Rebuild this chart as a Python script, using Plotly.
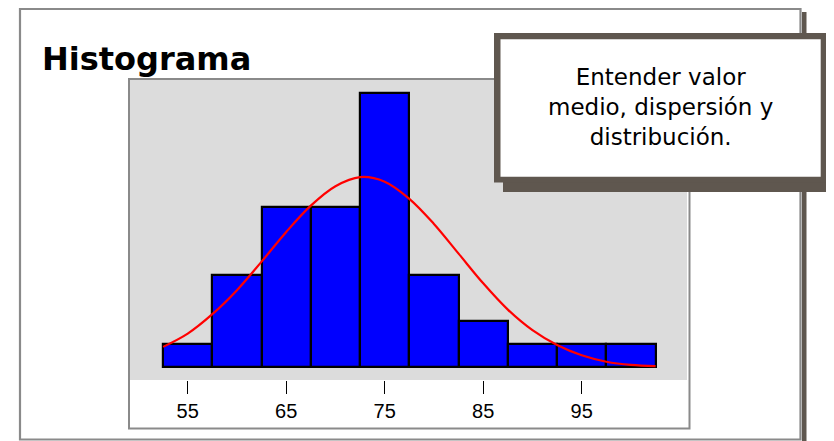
import plotly.graph_objects as go

# ---- data ----
bin_centers = [55, 60, 65, 70, 75, 80, 85, 90, 95, 100]
counts = [1, 4, 7, 7, 12, 4, 2, 1, 1, 1]
bin_width = 5
curve_x = [52.5, 55, 57.5, 60, 62.5, 65, 67.5, 70, 72.5, 75, 77.5, 80,
           82.5, 85, 87.5, 90, 92.5, 95, 97.5, 100, 102.5]
curve_y = [0.87, 1.45, 2.3, 3.35, 4.6, 5.9, 7.05, 7.9, 8.3, 8.1, 7.35, 6.25,
           4.95, 3.65, 2.5, 1.6, 0.95, 0.5, 0.22, 0.08, 0.03]
tick_vals = [55, 65, 75, 85, 95]
tick_text = ["55", "65", "75", "85", "95"]
title_text = "Histograma"
note_lines = ["Entender valor", "medio, dispersión y", "distribución."]

# ---- layout geometry (pixels) ----
OFF = 8  # page body margin
W, H = 834, 441
# plot area in screen pixels: x 130..687, y 80..380
L, T = 130 - OFF, 80 - OFF
PW, PH = 557, 300
R = W - L - PW
B = H - T - PH


def px(x):
    return (x - OFF - L) / PW


def py(y):
    return (T + PH - (y - OFF)) / PH


DARK = "#5F574F"
FRAME = "#8A8A8A"

fig = go.Figure()
fig.add_trace(go.Bar(
    x=bin_centers, y=counts, width=bin_width,
    marker=dict(color="#0000FF", line=dict(color="black", width=2.2)),
    showlegend=False, hoverinfo="skip",
))
fig.add_trace(go.Scatter(
    x=curve_x, y=curve_y, mode="lines",
    line=dict(color="#FF0000", width=2.2, shape="spline"),
    showlegend=False, hoverinfo="skip",
))

shapes = []
# outer frame shadow + frame
shapes.append(dict(type="rect", xref="paper", yref="paper", layer="below",
                   x0=px(802), x1=px(806.5), y0=py(12), y1=py(460),
                   fillcolor=DARK, line=dict(width=0)))
shapes.append(dict(type="rect", xref="paper", yref="paper", layer="below",
                   x0=px(20), x1=px(800.5), y0=py(9), y1=py(439.5),
                   line=dict(color=FRAME, width=2.2)))
# plot frame
shapes.append(dict(type="rect", xref="paper", yref="paper", layer="above",
                   x0=px(129), x1=px(689.5), y0=py(79), y1=py(428.5),
                   line=dict(color=FRAME, width=2)))
# note box shadow, border, white inner
shapes.append(dict(type="rect", xref="paper", yref="paper", layer="above",
                   x0=px(503), x1=px(850), y0=py(42.5), y1=py(192),
                   fillcolor=DARK, line=dict(width=0)))
shapes.append(dict(type="rect", xref="paper", yref="paper", layer="above",
                   x0=px(494), x1=px(827), y0=py(33), y1=py(182.5),
                   fillcolor=DARK, line=dict(width=0)))
shapes.append(dict(type="rect", xref="paper", yref="paper", layer="above",
                   x0=px(500.5), x1=px(820.7), y0=py(39.3), y1=py(176.7),
                   fillcolor="white", line=dict(width=0)))

annotations = [
    dict(text=title_text, xref="paper", yref="paper", x=px(40), y=py(59),
         xanchor="left", yanchor="middle", showarrow=False,
         font=dict(family="DejaVu Sans", size=32, color="black",
                   weight="bold")),
    dict(text="<br>".join(note_lines), xref="paper", yref="paper",
         x=px(660), y=py(107), xanchor="center", yanchor="middle",
         align="center", showarrow=False,
         font=dict(family="DejaVu Sans", size=23, color="black")),
]

fig.update_layout(
    width=W, height=H,
    margin=dict(l=L, r=R, t=T, b=B, pad=0),
    paper_bgcolor="white", plot_bgcolor="#DCDCDC",
    bargap=0, shapes=shapes, annotations=annotations,
    xaxis=dict(range=[49.14, 105.69], tickvals=tick_vals, ticktext=tick_text,
               ticks="outside", ticklen=13, tickwidth=1.2, tickcolor="black",
               showgrid=False, zeroline=False, showline=False,
               tickfont=dict(family="Liberation Sans", size=20, color="black"),
               fixedrange=True),
    yaxis=dict(range=[-0.58, 12.55], visible=False, fixedrange=True),
)

fig.write_html("out.html")
